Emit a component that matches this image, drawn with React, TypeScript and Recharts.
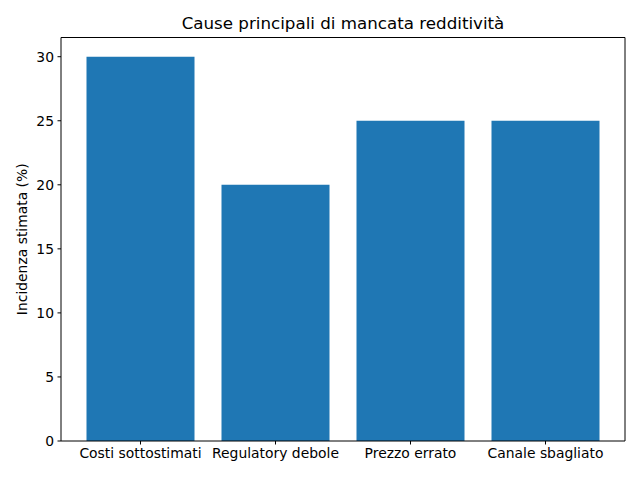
import { BarChart, Bar, XAxis, YAxis, Label, ReferenceLine } from "recharts";

const categories = ["Costi sottostimati", "Regulatory debole", "Prezzo errato", "Canale sbagliato"];
const incidence = [30, 20, 25, 25];
const yTicks = [0, 5, 10, 15, 20, 25, 30];

const data = categories.map((name, i) => ({ name, value: incidence[i] }));

const font = "'DejaVu Sans', sans-serif";
const tickStyle = { fontSize: 13.9, fill: "#000", fontFamily: font };

export default function App() {
  return (
    <div style={{ position: "absolute", left: 0, top: 0, width: 640, height: 480, background: "#fff" }}>
      <div
        style={{
          position: "absolute",
          left: 61,
          width: 564,
          top: 13,
          textAlign: "center",
          fontFamily: font,
          fontSize: 16.7,
          lineHeight: "20px",
          color: "#000",
        }}
      >
        Cause principali di mancata redditività
      </div>
      <BarChart
        width={640}
        height={480}
        data={data}
        margin={{ top: 37.5, right: 14, bottom: 0, left: 0 }}
        barCategoryGap="10%"
      >
        <XAxis
          dataKey="name"
          padding={{ left: 12, right: 12 }}
          stroke="#000"
          tick={tickStyle}
          tickSize={3.5}
          tickMargin={3.5}
          height={39}
        />
        <YAxis
          domain={[0, 31.5]}
          ticks={yTicks}
          stroke="#000"
          tick={tickStyle}
          tickSize={3.5}
          tickMargin={3.5}
          width={61}
        >
          <Label
            value="Incidenza stimata (%)"
            angle={-90}
            position="insideLeft"
            offset={0}
            dx={22}
            style={{ textAnchor: "middle", fontSize: 13.9, fill: "#000", fontFamily: font }}
          />
        </YAxis>
        <YAxis
          yAxisId="right"
          orientation="right"
          domain={[0, 31.5]}
          width={1}
          tick={false}
          tickLine={false}
          stroke="#000"
        />
        <Bar dataKey="value" fill="#1f77b4" isAnimationActive={false} />
        <ReferenceLine y={31.5} stroke="#000" />
      </BarChart>
    </div>
  );
}
